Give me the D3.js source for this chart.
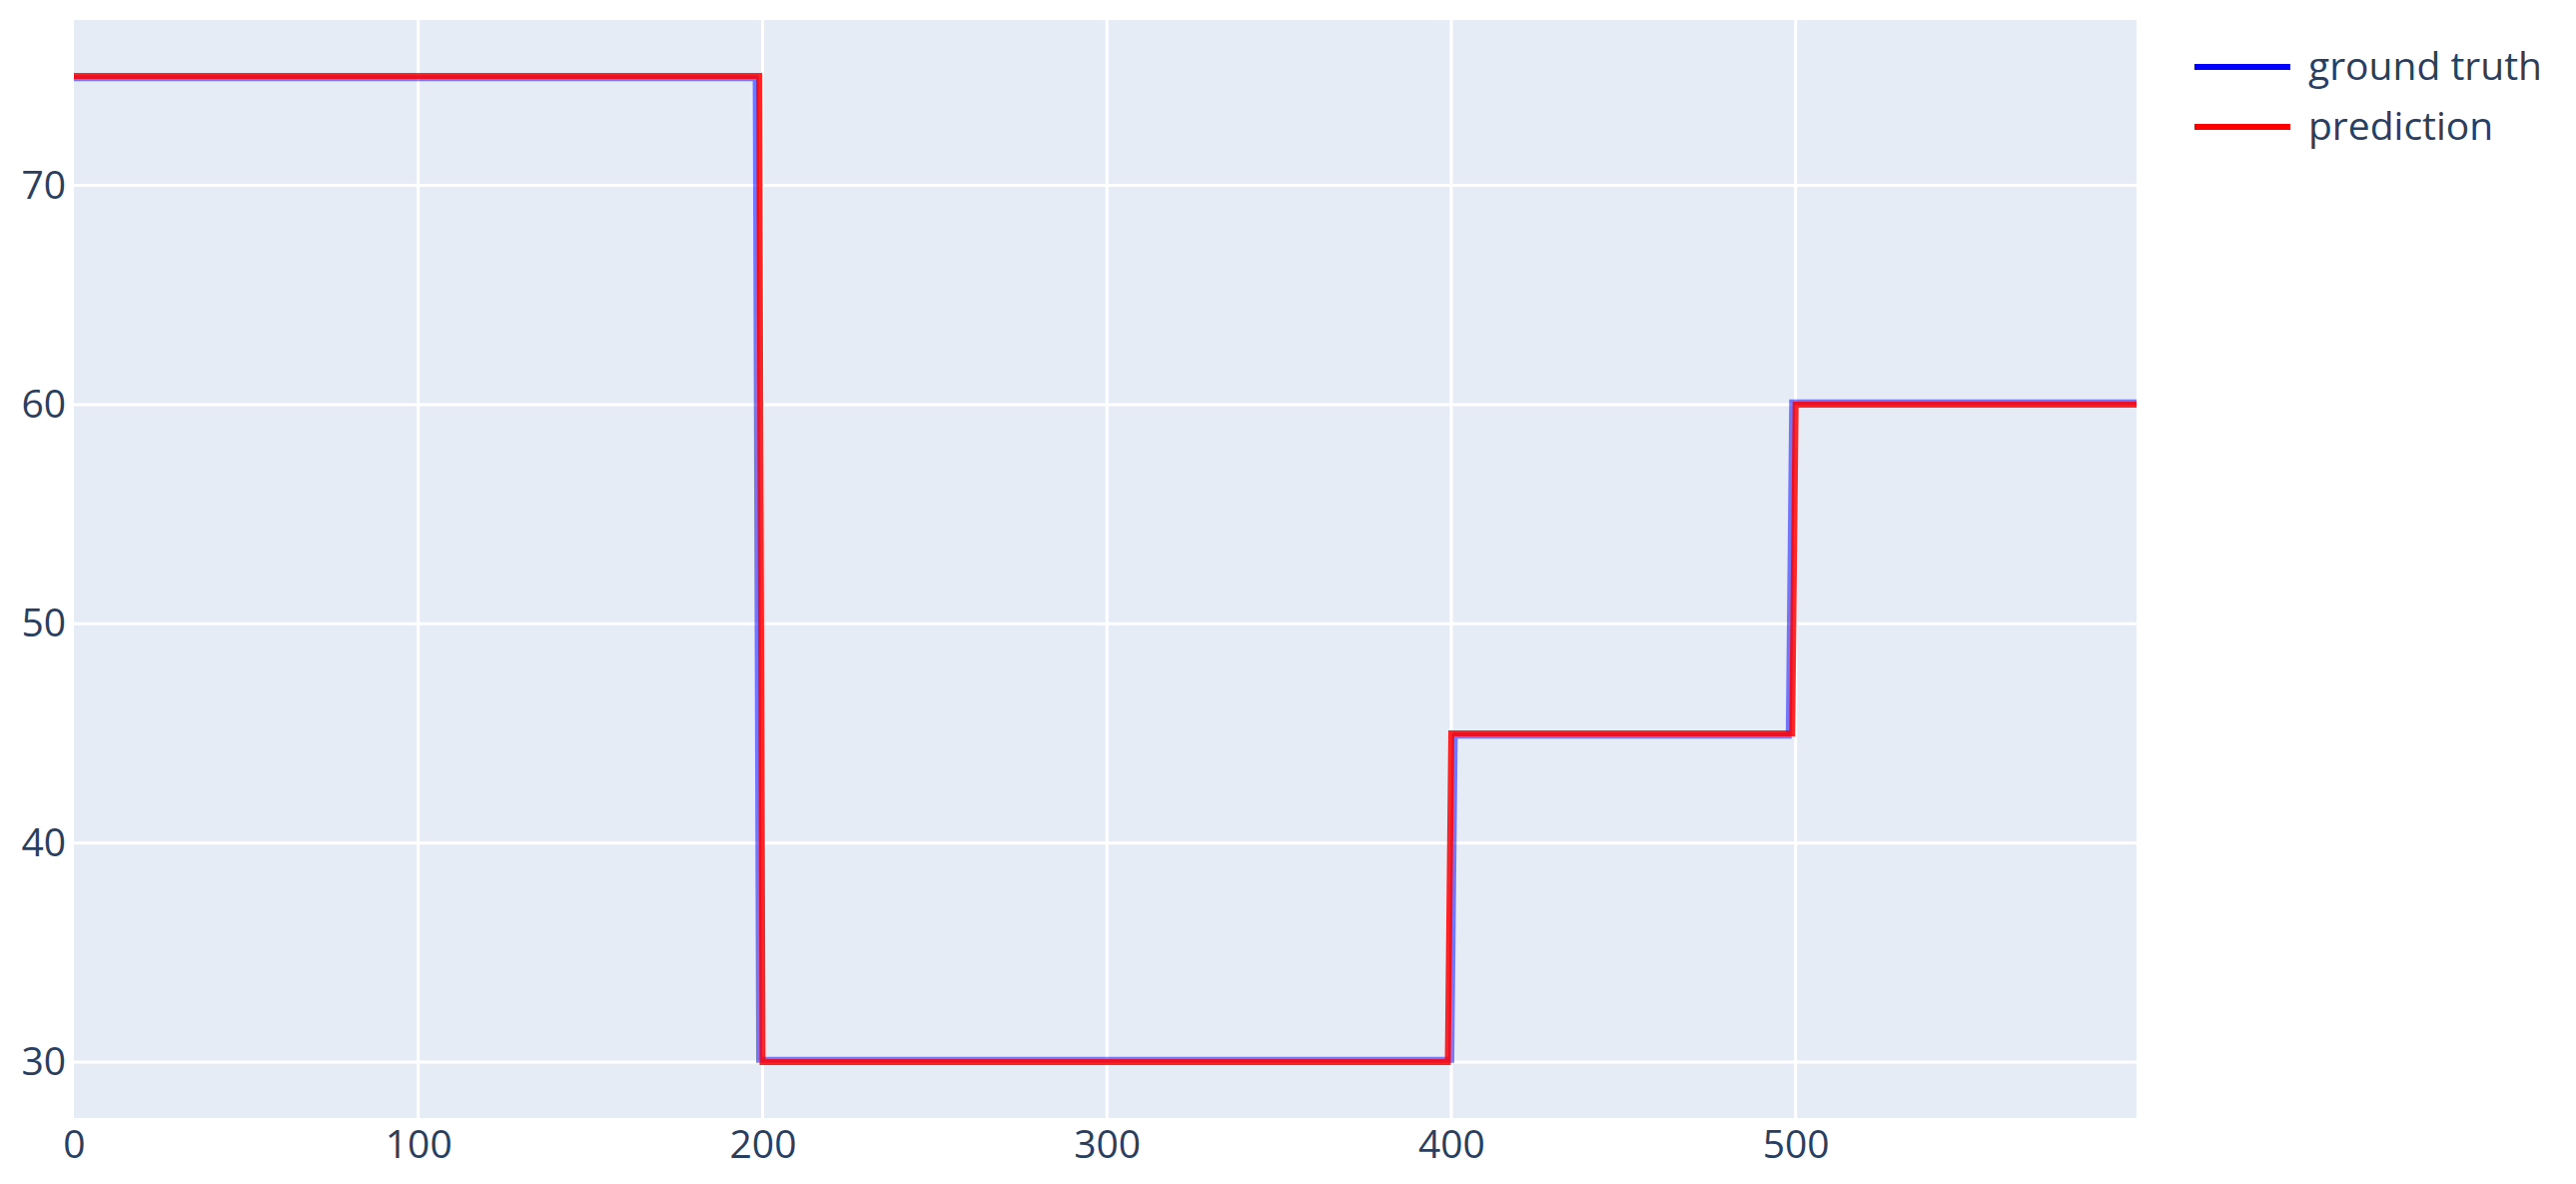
<!DOCTYPE html>
<html lang="en">
<head>
<meta charset="utf-8">
<script src="https://d3js.org/d3.v7.min.js"></script>
<style>
  body { margin: 0; background: #fff; }
  text { font-family: "Open Sans", "Noto Sans", sans-serif; fill: #2a3f5f; }
</style>
</head>
<body>
<svg width="2579" height="1185"></svg>
<script>
// line vertices (collinear points left out)
var truthX = [0, 198, 199, 400, 401, 498, 499, 599];
var truthY = [74.9, 74.9, 30.1, 30.1, 44.9, 44.9, 60.1, 60.1];
var predX = [0, 199, 200, 399, 400, 499, 500, 599];
var predY = [75, 75, 30, 30, 45, 45, 60, 60];

var seriesNames = ["ground truth", "prediction"];
var seriesColors = ["#0000ff", "#ff0000"];
var xTicks = [0, 100, 200, 300, 400, 500];
var yTicks = [30, 40, 50, 60, 70];

// note: "top" is taken by window.top, so use a margin object
var svg = d3.select("svg"),
    plot = { l: 74, r: 2139, t: 20, b: 1119 };

var x = d3.scaleLinear().domain([0, 599]).range([plot.l, plot.r]);
var y = d3.scaleLinear().domain([27.45, 77.55]).range([plot.b, plot.t]);

svg.append("rect")
    .attr("x", plot.l).attr("y", plot.t)
    .attr("width", plot.r - plot.l).attr("height", plot.b - plot.t)
    .attr("fill", "#e5ecf6");

// grid
svg.append("g").selectAll("line").data(xTicks.slice(1)).join("line")
    .attr("x1", d => x(d)).attr("x2", d => x(d))
    .attr("y1", plot.t).attr("y2", plot.b)
    .attr("stroke", "#fff").attr("stroke-width", 3);
svg.append("g").selectAll("line").data(yTicks).join("line")
    .attr("x1", plot.l).attr("x2", plot.r)
    .attr("y1", d => y(d)).attr("y2", d => y(d))
    .attr("stroke", "#fff").attr("stroke-width", 3);

// axes, plotly style: labels only
var xAxis = svg.append("g")
    .attr("transform", "translate(0," + plot.b + ")")
    .call(d3.axisBottom(x).tickValues(xTicks).tickSize(0).tickPadding(12));
var yAxis = svg.append("g")
    .attr("transform", "translate(" + plot.l + ",0)")
    .call(d3.axisLeft(y).tickValues(yTicks).tickSize(0).tickPadding(8));
[xAxis, yAxis].forEach(function(a) {
  a.select(".domain").remove();
  a.selectAll("text").attr("font-size", 39).attr("fill", "#2a3f5f")
    .attr("font-family", "Open Sans, Noto Sans, sans-serif");
});

var line = d3.line().x(d => x(d[0])).y(d => y(d[1]));
var truth = truthX.map((v, i) => [v, truthY[i]]);
var pred = predX.map((v, i) => [v, predY[i]]);

svg.append("path").datum(truth)
    .attr("d", line).attr("fill", "none")
    .attr("stroke", seriesColors[0]).attr("stroke-width", 6)
    .attr("stroke-opacity", 0.5);
svg.append("path").datum(pred)
    .attr("d", line).attr("fill", "none")
    .attr("stroke", seriesColors[1]).attr("stroke-width", 6)
    .attr("stroke-opacity", 0.85);

// legend
var legend = svg.append("g").selectAll("g").data(seriesNames).join("g")
    .attr("transform", (d, i) => "translate(2197," + (67 + i * 60) + ")");
legend.append("line")
    .attr("x1", 0).attr("x2", 96)
    .attr("stroke", (d, i) => seriesColors[i]).attr("stroke-width", 6);
legend.append("text")
    .attr("x", 114).attr("y", 13)
    .attr("font-size", 39)
    .text(d => d);
</script>
</body>
</html>
